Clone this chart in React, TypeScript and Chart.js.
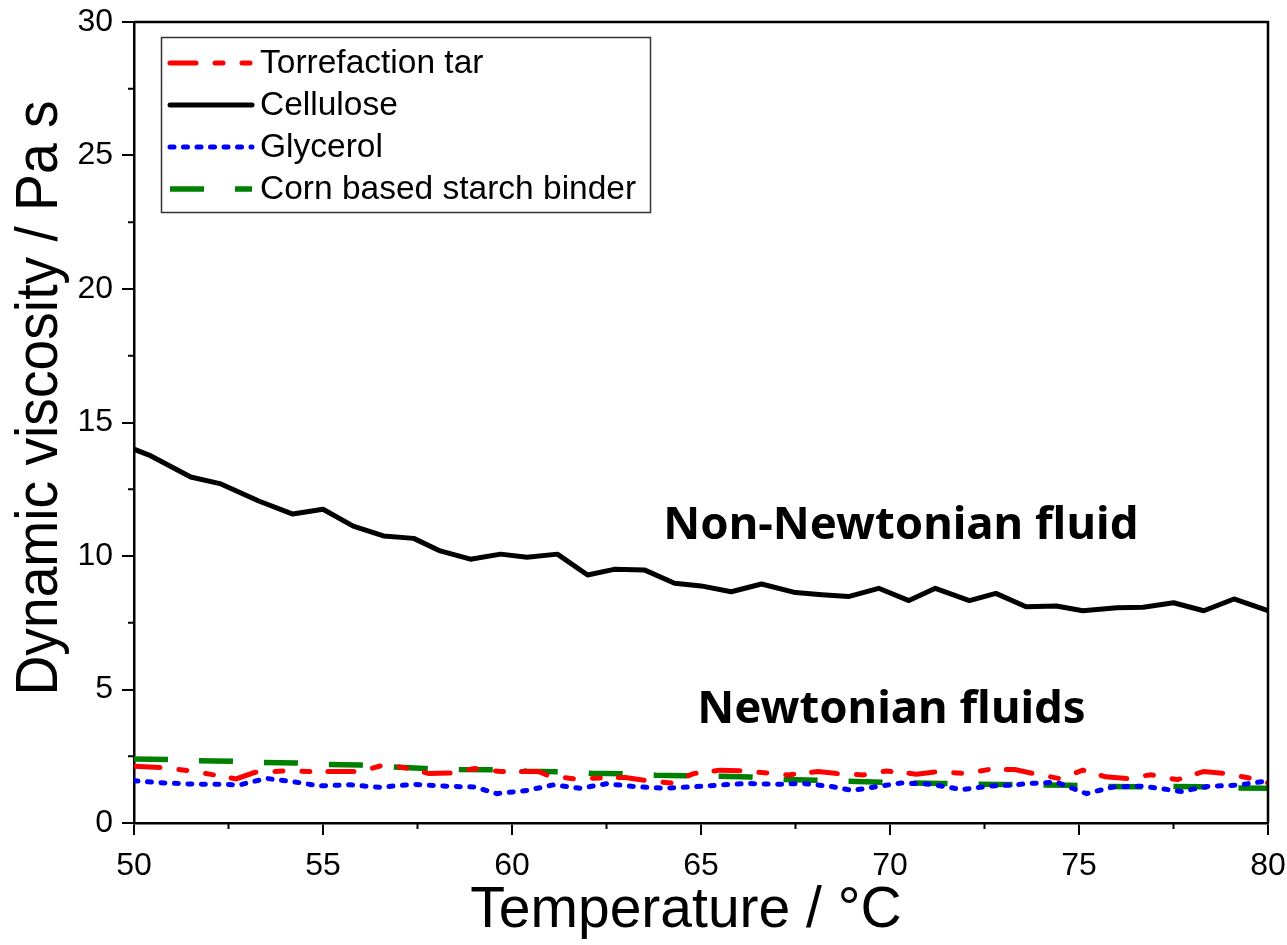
import React, { useEffect, useRef } from "react";
import { Chart, registerables } from "chart.js";

Chart.register(...registerables);

// ---- Data ----
const xTicksMajor = [50, 55, 60, 65, 70, 75, 80];
const yTicksMajor = [0, 5, 10, 15, 20, 25, 30];

const tarT = [50.0, 50.8, 51.5, 52.0, 52.7, 53.2, 54.0, 54.6, 55.3, 56.0, 56.6, 57.3, 57.8, 58.4, 59.0, 59.7, 60.7, 61.0, 61.7, 62.5, 63.0, 63.6, 64.2, 64.8, 65.5, 66.1, 66.8, 67.3, 68.1, 68.6, 69.3, 69.9, 70.7, 71.3, 72.0, 72.6, 73.3, 73.8, 74.5, 75.1, 75.7, 76.3, 76.9, 77.6, 78.3, 78.9, 79.6, 80.0];
const tarV = [2.13, 2.07, 1.95, 1.83, 1.65, 1.9, 1.95, 1.93, 1.93, 1.93, 2.17, 2.04, 1.85, 1.87, 2.04, 1.93, 1.93, 1.75, 1.65, 1.7, 1.7, 1.58, 1.5, 1.85, 1.98, 1.95, 1.87, 1.8, 1.93, 1.85, 1.8, 1.95, 1.83, 1.93, 1.85, 2.0, 2.0, 1.85, 1.66, 1.98, 1.73, 1.66, 1.81, 1.62, 1.93, 1.85, 1.66, 1.5];

const celluloseT = [50.0, 50.4, 51.5, 52.3, 53.3, 54.2, 55.0, 55.8, 56.6, 57.4, 58.1, 58.9, 59.7, 60.4, 61.2, 62.0, 62.7, 63.5, 64.3, 65.0, 65.8, 66.6, 67.5, 68.2, 68.9, 69.7, 70.5, 71.2, 72.1, 72.8, 73.6, 74.4, 75.1, 76.0, 76.7, 77.5, 78.3, 79.1, 80.0];
const celluloseV = [14.0, 13.78, 12.96, 12.7, 12.06, 11.57, 11.75, 11.12, 10.75, 10.66, 10.19, 9.88, 10.07, 9.95, 10.07, 9.29, 9.5, 9.48, 8.98, 8.88, 8.66, 8.95, 8.63, 8.55, 8.48, 8.79, 8.33, 8.79, 8.33, 8.6, 8.1, 8.13, 7.95, 8.06, 8.08, 8.25, 7.95, 8.39, 7.95];

const glycerolT = [50.0, 50.8, 51.5, 52.2, 52.8, 53.5, 54.2, 54.9, 55.7, 56.5, 57.4, 58.4, 59.0, 59.6, 60.4, 61.1, 61.8, 62.5, 63.2, 64.0, 64.7, 65.5, 66.2, 67.0, 67.7, 68.4, 69.0, 69.6, 70.3, 71.1, 71.9, 72.6, 73.2, 73.7, 74.4, 75.2, 75.9, 76.7, 77.7, 78.4, 79.2, 80.0];
const glycerolV = [1.58, 1.5, 1.46, 1.45, 1.43, 1.67, 1.55, 1.39, 1.43, 1.34, 1.45, 1.37, 1.35, 1.1, 1.22, 1.43, 1.3, 1.47, 1.37, 1.3, 1.35, 1.42, 1.48, 1.45, 1.48, 1.38, 1.22, 1.35, 1.5, 1.45, 1.25, 1.38, 1.42, 1.48, 1.53, 1.1, 1.35, 1.38, 1.18, 1.37, 1.42, 1.58];

const starchT = [50.0, 51.0, 51.7, 52.6, 53.4, 54.3, 55.1, 56.0, 56.8, 57.7, 58.6, 59.5, 60.4, 61.3, 62.1, 63.0, 63.8, 64.6, 65.5, 66.3, 67.2, 68.1, 68.9, 69.8, 70.5, 71.4, 72.2, 73.0, 73.9, 74.8, 75.6, 76.5, 77.3, 78.2, 79.0, 80.0];
const starchV = [2.4, 2.38, 2.33, 2.31, 2.27, 2.25, 2.19, 2.17, 2.1, 2.04, 2.0, 1.99, 1.94, 1.92, 1.86, 1.84, 1.79, 1.77, 1.75, 1.72, 1.63, 1.6, 1.56, 1.53, 1.5, 1.48, 1.45, 1.44, 1.43, 1.41, 1.37, 1.36, 1.37, 1.36, 1.31, 1.3];

const seriesLabels = ["Torrefaction tar", "Cellulose", "Glycerol", "Corn based starch binder"];
const annotationTexts = ["Non-Newtonian fluid", "Newtonian fluids"];
const xTitle = "Temperature / °C";
const yTitle = "Dynamic viscosity / Pa s";

const pts = (xs: number[], ys: number[]) => xs.map((x, i) => ({ x, y: ys[i] }));

const decorPlugin = {
  id: "decor",
  afterDatasetsDraw(chart: any) {
    const { ctx, chartArea: ca, scales } = chart;
    const xs = scales.x;
    const ys = scales.y;
    ctx.save();
    // frame top & right
    ctx.strokeStyle = "#000";
    ctx.lineWidth = 2.5;
    ctx.beginPath();
    ctx.moveTo(ca.left, ca.top);
    ctx.lineTo(ca.right, ca.top);
    ctx.lineTo(ca.right, ca.bottom);
    ctx.stroke();
    // minor ticks
    ctx.lineWidth = 2;
    ctx.beginPath();
    for (let i = 0; i < xTicksMajor.length - 1; i++) {
      const v = (xTicksMajor[i] + xTicksMajor[i + 1]) / 2;
      const px = xs.getPixelForValue(v);
      ctx.moveTo(px, ca.bottom);
      ctx.lineTo(px, ca.bottom + 6);
    }
    for (let i = 0; i < yTicksMajor.length - 1; i++) {
      const v = (yTicksMajor[i] + yTicksMajor[i + 1]) / 2;
      const py = ys.getPixelForValue(v);
      ctx.moveTo(ca.left, py);
      ctx.lineTo(ca.left - 6, py);
    }
    ctx.stroke();

    // annotations
    ctx.fillStyle = "#000";
    ctx.font = "bold 45.5px 'Noto Sans'";
    ctx.textAlign = "left";
    ctx.textBaseline = "alphabetic";
    ctx.fillText(annotationTexts[0], xs.getPixelForValue(64.0), ys.getPixelForValue(10.64));
    ctx.fillText(annotationTexts[1], xs.getPixelForValue(64.9), ys.getPixelForValue(3.75));

    // axis titles
    ctx.font = "57px 'Liberation Sans'";
    ctx.textAlign = "center";
    ctx.fillText(xTitle, 686, 927);
    ctx.save();
    ctx.translate(57, 398);
    ctx.rotate(-Math.PI / 2);
    ctx.scale(0.92, 1);
    ctx.font = "60px 'Liberation Sans'";
    ctx.fillText(yTitle, 0, 0);
    ctx.restore();

    // legend
    const bx = 161.5, by = 37.5, bw = 489, bh = 175;
    ctx.fillStyle = "#fff";
    ctx.fillRect(bx, by, bw, bh);
    ctx.strokeStyle = "#333";
    ctx.lineWidth = 1.5;
    ctx.strokeRect(bx, by, bw, bh);
    const rows = [63, 105, 147, 189];
    chart.data.datasets.forEach((ds: any, i: number) => {
      const y = rows[i];
      ctx.save();
      ctx.strokeStyle = ds.borderColor;
      ctx.lineWidth = ds.borderWidth;
      ctx.lineCap = ds.borderCapStyle || "butt";
      ctx.setLineDash(ds.borderDash || []);
      ctx.beginPath();
      ctx.moveTo(170, y);
      ctx.lineTo(252, y);
      ctx.stroke();
      ctx.restore();
      ctx.fillStyle = "#000";
      ctx.font = "33.5px 'Liberation Sans'";
      ctx.textAlign = "left";
      ctx.textBaseline = "middle";
      ctx.fillText(ds.label, 260, y + 1);
    });
    ctx.restore();
  },
};

export default function App() {
  const canvasRef = useRef<HTMLCanvasElement | null>(null);

  useEffect(() => {
    document.body.style.margin = "0";
    const canvas = canvasRef.current;
    if (!canvas) return;
    const chart = new Chart(canvas, {
      type: "line",
      data: {
        datasets: [
          {
            label: seriesLabels[0],
            data: pts(tarT, tarV),
            borderColor: "#ff0000",
            borderWidth: 5,
            borderDash: [26, 19, 8, 19, 8, 18],
            borderCapStyle: "round",
            pointRadius: 0,
            tension: 0,
            order: 2,
          },
          {
            label: seriesLabels[1],
            data: pts(celluloseT, celluloseV),
            borderColor: "#000000",
            borderWidth: 5,
            borderCapStyle: "round",
            borderJoinStyle: "round",
            pointRadius: 0,
            tension: 0,
            order: 1,
          },
          {
            label: seriesLabels[2],
            data: pts(glycerolT, glycerolV),
            borderColor: "#0000ff",
            borderWidth: 5,
            borderDash: [4, 9.5],
            borderCapStyle: "round",
            pointRadius: 0,
            tension: 0,
            order: 3,
          },
          {
            label: seriesLabels[3],
            data: pts(starchT, starchV),
            borderColor: "#008000",
            borderWidth: 5.5,
            borderDash: [34, 31],
            borderCapStyle: "butt",
            pointRadius: 0,
            tension: 0,
            order: 4,
          },
        ],
      } as any,
      options: {
        animation: false,
        responsive: false,
        devicePixelRatio: 1,
        layout: { padding: { top: 22, right: 19, left: 0, bottom: 0 } },
        plugins: { legend: { display: false }, tooltip: { enabled: false } },
        scales: {
          x: {
            type: "linear",
            min: 50,
            max: 80,
            afterFit: (s: any) => {
              s.height = 122;
              s.paddingLeft = 0;
              s.paddingRight = 0;
            },
            afterBuildTicks: (s: any) => { s.ticks = xTicksMajor.map((v) => ({ value: v })); },
            ticks: {
              font: { family: "'Liberation Sans'", size: 32 },
              color: "#000",
              padding: 12,
              maxRotation: 0,
            },
            grid: { drawOnChartArea: false, drawTicks: true, tickLength: 12, color: "#000", lineWidth: 2 },
            border: { display: true, color: "#000", width: 2.5 },
          },
          y: {
            type: "linear",
            min: 0,
            max: 30,
            afterFit: (s: any) => {
              s.width = 134;
              s.paddingTop = 0;
              s.paddingBottom = 0;
            },
            afterBuildTicks: (s: any) => { s.ticks = yTicksMajor.map((v) => ({ value: v })); },
            ticks: {
              font: { family: "'Liberation Sans'", size: 32 },
              color: "#000",
              padding: 9,
            },
            grid: { drawOnChartArea: false, drawTicks: true, tickLength: 12, color: "#000", lineWidth: 2 },
            border: { display: true, color: "#000", width: 2.5 },
          },
        },
      } as any,
      plugins: [decorPlugin],
    });
    return () => chart.destroy();
  }, []);

  return (
    <div style={{ width: 1287, height: 945, position: "relative", background: "#fff" }}>
      <canvas ref={canvasRef} width={1287} height={945} />
    </div>
  );
}
